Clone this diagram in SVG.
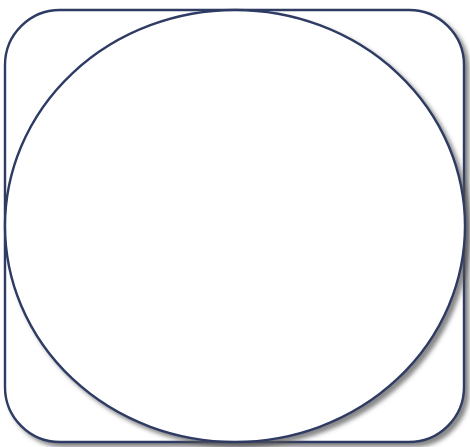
<svg xmlns="http://www.w3.org/2000/svg" width="470" height="447" viewBox="0 0 470 447">
<defs>
<filter id="sh" x="-10%" y="-10%" width="120%" height="120%">
<feGaussianBlur in="SourceAlpha" stdDeviation="2"/>
<feOffset dx="4" dy="4" result="b"/>
<feFlood flood-color="#555" flood-opacity="0.7"/>
<feComposite in2="b" operator="in" result="s"/>
<feMerge><feMergeNode in="s"/><feMergeNode in="SourceGraphic"/></feMerge>
</filter>
<style>.s{fill:#fff;stroke:#2e3a64;stroke-width:2.4}</style>
</defs>
<rect width="470" height="447" fill="#fff"/>
<g id="frame" filter="url(#sh)"><rect class="s" x="5" y="10" width="459" height="432" rx="55" ry="55"/></g>
<g id="circle" filter="url(#sh)"><ellipse class="s" cx="235" cy="226" rx="230" ry="216"/></g>
<g id="connectors"/>
</svg>
